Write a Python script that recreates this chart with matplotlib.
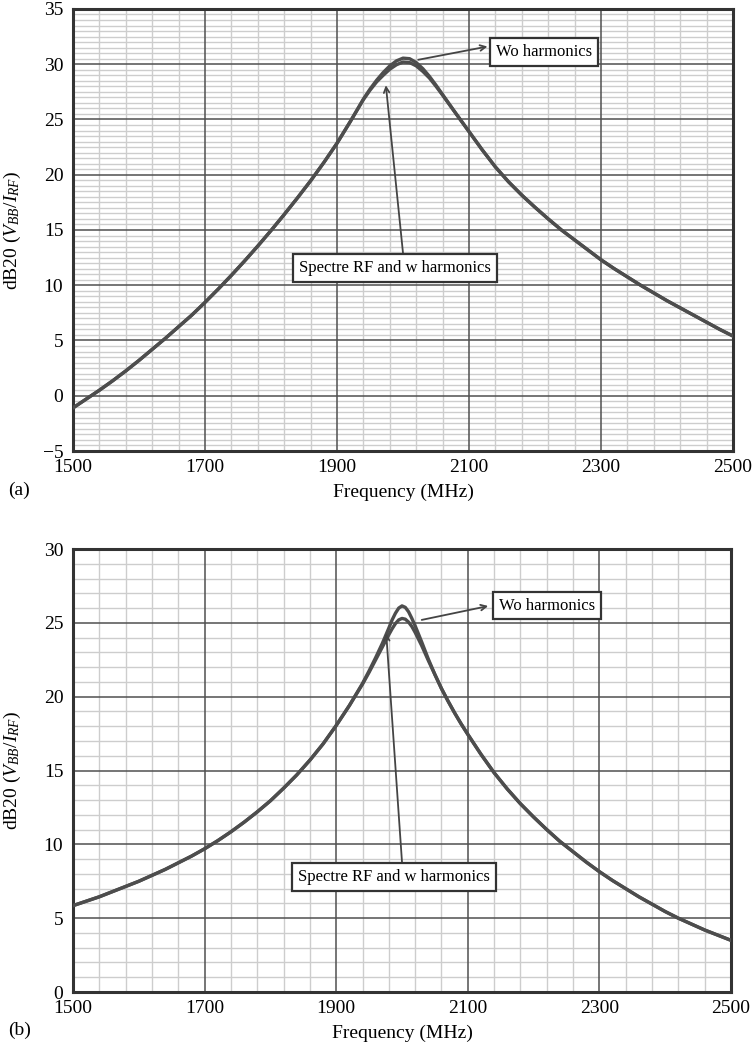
import numpy as np
import matplotlib
matplotlib.use("Agg")
import matplotlib.pyplot as plt
from matplotlib.ticker import MultipleLocator, FixedLocator

plt.rcParams['font.family'] = ['Liberation Serif', 'DejaVu Serif']
plt.rcParams['mathtext.fontset'] = 'custom'
plt.rcParams['mathtext.rm'] = 'Liberation Serif'
plt.rcParams['mathtext.it'] = 'Liberation Serif:italic'

# (a) data
freq_a = [1500, 1520, 1540, 1560, 1580, 1600, 1620, 1640, 1660, 1680, 1700, 1720,
          1740, 1760, 1780, 1800, 1820, 1840, 1860, 1880, 1900, 1920, 1940, 1950,
          1960, 1970, 1980, 1990, 2000, 2010, 2020, 2030, 2040, 2050, 2060, 2080,
          2100, 2120, 2140, 2160, 2180, 2200, 2220, 2240, 2260, 2280, 2300, 2320,
          2340, 2360, 2380, 2400, 2420, 2440, 2460, 2480, 2500]
wo_a = [-1.1, -0.3, 0.5, 1.35, 2.25, 3.2, 4.2, 5.2, 6.25, 7.3, 8.45, 9.65,
        10.9, 12.2, 13.55, 14.95, 16.4, 17.9, 19.45, 21.1, 22.85, 24.8, 26.85, 27.75,
        28.55, 29.25, 29.85, 30.3, 30.55, 30.5, 30.15, 29.6, 28.9, 28.1, 27.25, 25.55,
        23.9, 22.25, 20.7, 19.35, 18.15, 17.05, 16.0, 15.0, 14.1, 13.2, 12.3, 11.5,
        10.75, 10.0, 9.3, 8.6, 7.95, 7.3, 6.65, 6.0, 5.4]
spectre_a = [-1.1, -0.3, 0.5, 1.35, 2.25, 3.2, 4.2, 5.2, 6.25, 7.3, 8.45, 9.65,
             10.9, 12.2, 13.55, 14.95, 16.4, 17.9, 19.45, 21.1, 22.85, 24.8, 26.8, 27.65,
             28.4, 29.0, 29.55, 29.95, 30.2, 30.15, 29.85, 29.35, 28.75, 28.0, 27.2, 25.55,
             23.9, 22.25, 20.7, 19.35, 18.15, 17.05, 16.0, 15.0, 14.1, 13.2, 12.3, 11.5,
             10.75, 10.0, 9.3, 8.6, 7.95, 7.3, 6.65, 6.0, 5.4]

# (b) data
freq_b = [1500, 1520, 1540, 1560, 1580, 1600, 1620, 1640, 1660, 1680, 1700, 1720,
          1740, 1760, 1780, 1800, 1820, 1840, 1860, 1880, 1900, 1920, 1940, 1950,
          1960, 1970, 1980, 1985, 1990, 1995, 2000, 2005, 2010, 2015, 2020, 2030,
          2040, 2050, 2060, 2070, 2080, 2090, 2100, 2120, 2140, 2160, 2180, 2200,
          2220, 2240, 2260, 2280, 2300, 2320, 2340, 2360, 2380, 2400, 2420, 2440,
          2460, 2480, 2500]
wo_b = [5.85, 6.15, 6.45, 6.8, 7.15, 7.5, 7.9, 8.3, 8.75, 9.2, 9.7, 10.25,
        10.85, 11.5, 12.2, 12.95, 13.8, 14.7, 15.7, 16.8, 18.05, 19.4, 20.9, 21.75,
        22.65, 23.6, 24.65, 25.2, 25.65, 26.0, 26.15, 26.05, 25.75, 25.3, 24.8, 23.7,
        22.55, 21.5, 20.55, 19.7, 18.9, 18.15, 17.45, 16.1, 14.85, 13.75, 12.75, 11.85,
        11.0, 10.2, 9.5, 8.8, 8.15, 7.55, 7.0, 6.45, 5.95, 5.45, 5.0, 4.6,
        4.2, 3.85, 3.5]
spectre_b = [5.85, 6.15, 6.45, 6.8, 7.15, 7.5, 7.9, 8.3, 8.75, 9.2, 9.7, 10.25,
             10.85, 11.5, 12.2, 12.95, 13.8, 14.7, 15.7, 16.8, 18.05, 19.4, 20.85, 21.65,
             22.5, 23.35, 24.2, 24.6, 24.95, 25.2, 25.3, 25.25, 25.05, 24.75, 24.35, 23.45,
             22.45, 21.5, 20.55, 19.7, 18.9, 18.15, 17.45, 16.1, 14.85, 13.75, 12.75, 11.85,
             11.0, 10.2, 9.5, 8.8, 8.15, 7.55, 7.0, 6.45, 5.95, 5.45, 5.0, 4.6,
             4.2, 3.85, 3.5]

xticks = [1500, 1700, 1900, 2100, 2300, 2500]

fig = plt.figure(figsize=(7.55, 10.54), dpi=100)
ax1 = fig.add_axes([0.0967, 0.5721, 0.8742, 0.4194])
ax2 = fig.add_axes([0.0967, 0.0588, 0.8715, 0.4203])

curve_col = '#4d4d4d'
major_col = '#505050'


def style(ax, ylim, ymajor, yminor):
    ax.set_xlim(1500, 2500)
    ax.set_ylim(*ylim)
    ax.xaxis.set_major_locator(FixedLocator(xticks))
    minor_x = [v for v in range(1500, 2501, 40) if v not in xticks]
    ax.xaxis.set_minor_locator(FixedLocator(minor_x))
    ax.yaxis.set_major_locator(MultipleLocator(ymajor))
    ax.yaxis.set_minor_locator(MultipleLocator(yminor))
    ax.grid(which='minor', color='#cdcdcd', linewidth=1.0)
    ax.set_axisbelow(True)
    # major grid drawn above the minor one
    for v in xticks:
        ax.axvline(v, color=major_col, lw=1.1, zorder=0.8)
    for v in np.arange(ylim[0], ylim[1] + 0.1, ymajor):
        ax.axhline(v, color=major_col, lw=1.1, zorder=0.8)
    ax.tick_params(which='both', length=0, labelsize=14)
    ax.tick_params(axis='x', pad=6)
    ax.tick_params(axis='y', pad=7)
    for s in ax.spines.values():
        s.set_linewidth(2.2)
        s.set_color('#333333')
    ax.set_xlabel('Frequency (MHz)', fontsize=14, labelpad=5)
    ax.set_ylabel(r'dB20 ($V_{BB}/I_{RF}$)', fontsize=14)
    ax.yaxis.set_label_coords(-0.076, 0.5)


style(ax1, (-5, 35), 5, 0.5)
style(ax2, (0, 30), 5, 1)

for ax, f, wo, sp in [(ax1, freq_a, wo_a, spectre_a), (ax2, freq_b, wo_b, spectre_b)]:
    ax.plot(f, sp, color=curve_col, lw=2.4, solid_capstyle='round', zorder=3)
    ax.plot(f, wo, color=curve_col, lw=2.4, solid_capstyle='round', zorder=3)

box = dict(boxstyle='square,pad=0.35', fc='white', ec='#333333', lw=1.6)
arrow = dict(arrowstyle='->', color='#444444', lw=1.3, shrinkA=0, shrinkB=0)

# (a) annotations
ax1.text(2214, 31.1, 'Wo harmonics', fontsize=12, ha='center', va='center', bbox=box, zorder=4)
ax1.annotate('', xy=(2128, 31.6), xytext=(2023, 30.4), arrowprops=arrow)
ax1.text(1988, 11.56, 'Spectre RF and w harmonics', fontsize=12, ha='center', va='center', bbox=box, zorder=4)
ax1.annotate('', xy=(1974, 28.1), xytext=(2000, 12.9), arrowprops=arrow)

# (b) annotations
ax2.text(2220, 26.17, 'Wo harmonics', fontsize=12, ha='center', va='center', bbox=box, zorder=4)
ax2.annotate('', xy=(2131, 26.14), xytext=(2030, 25.2), arrowprops=arrow)
ax2.text(1988, 7.8, 'Spectre RF and w harmonics', fontsize=12, ha='center', va='center', bbox=box, zorder=4)
ax2.annotate('', xy=(1976, 24.3), xytext=(2000, 8.8), arrowprops=arrow)

fig.text(8 / 755, 1 - 490 / 1054, '(a)', fontsize=14, ha='left', va='center')
fig.text(8 / 755, 1 - 1030 / 1054, '(b)', fontsize=14, ha='left', va='center')

fig.savefig('out.png', dpi=100)
